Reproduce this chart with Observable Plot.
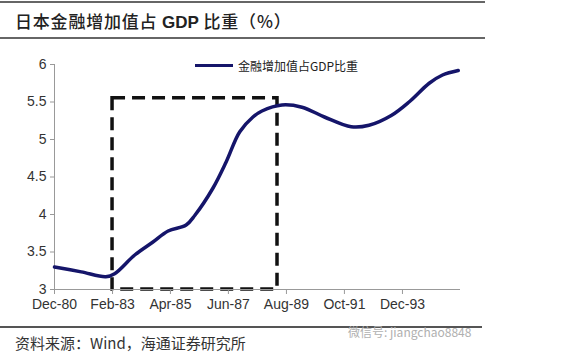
<!DOCTYPE html>
<html><head><meta charset="utf-8">
<script src="https://cdn.jsdelivr.net/npm/d3@7"></script>
<script src="https://cdn.jsdelivr.net/npm/@observablehq/plot@0.6"></script>
<style>
body{margin:0;background:#fff;font-family:Arial,"Liberation Sans",sans-serif;}
#wrap{position:relative;width:576px;height:356px;overflow:hidden;background:#fff;}
#title{position:absolute;left:0;top:1px;width:485px;height:34px;border-top:2px solid #666;border-bottom:2px solid #666;box-sizing:content-box;}
#title span{position:absolute;left:15px;top:5px;font-family:"Noto Sans CJK SC",sans-serif;font-size:17px;font-weight:500;color:#222;white-space:nowrap;letter-spacing:0.8px;}
#chart{position:absolute;left:0;top:44px;}
#legend{position:absolute;left:195px;top:57px;height:16px;display:flex;align-items:center;}
#legend .sw{width:38px;height:3px;background:#15156a;margin-right:5px;}
#legend .tx{font-family:"Noto Sans CJK SC",sans-serif;font-size:12px;color:#222;white-space:nowrap;}
#footrule{position:absolute;left:0;top:326px;width:482px;border-top:2px solid #555;}
#foot{position:absolute;left:15px;top:334px;font-family:"Noto Sans CJK SC",sans-serif;font-size:15px;color:#333;white-space:nowrap;line-height:18px;}
#wm{position:absolute;left:348px;top:324px;font-family:"Noto Sans CJK SC",sans-serif;font-size:12px;color:#b0b0b0;white-space:nowrap;line-height:16px;}
</style>
</head><body>
<div id="wrap">
  <div id="title"><span>日本金融增加值占 <b style="font-family:Arial,'Liberation Sans',sans-serif;font-weight:bold;letter-spacing:0">GDP</b> 比重（%）</span></div>
  <div id="chart"></div>
  <div id="legend"><div class="sw"></div><div class="tx">金融增加值占GDP比重</div></div>
  <div id="footrule"></div>
  <div id="wm">微信号: jiangchao8848</div>
  <div id="foot">资料来源：Wind，海通证券研究所</div>
</div>
<script>
// ---- data ----
const dates = ["1980-12","1981-12","1982-11","1983-03","1983-12","1984-08","1985-03","1985-11","1986-03","1986-11","1987-05","1987-11","1988-05","1988-09","1989-06","1990-03","1991-01","1992-01","1992-09","1993-07","1994-03","1994-12","1995-06","1996-01"];
const values = [3.30,3.235,3.17,3.21,3.46,3.63,3.78,3.86,3.99,4.35,4.70,5.10,5.30,5.38,5.46,5.43,5.30,5.17,5.19,5.32,5.50,5.75,5.86,5.92];
const xTickLabels = ["1980-12","1983-02","1985-04","1987-06","1989-08","1991-10","1993-12"];
const xDomain = ["1980-12","1996-02"];
const yTicks = [3,3.5,4,4.5,5,5.5,6];
const boxStart = ["1983-02"];
const boxEnd = ["1989-04"];
const boxLow = [3];
const boxHigh = [5.55];

const parse = d3.utcParse("%Y-%m");
const data = dates.map((d,i) => ({date: parse(d), value: values[i]}));
const box = boxStart.map((s,i) => ({x1: parse(s), x2: parse(boxEnd[i]), y1: boxLow[i], y2: boxHigh[i]}));
const xd = xDomain.map(parse);

const chart = Plot.plot({
  width: 576, height: 282,
  marginLeft: 54, marginRight: 116, marginTop: 20, marginBottom: 37,
  style: {fontFamily: "Arial, 'Liberation Sans', sans-serif", fontSize: "14px", color: "#333", background: "transparent"},
  x: {type: "utc", domain: xd},
  y: {domain: [3, 6]},
  marks: [
    Plot.rect(box, {x1: "x1", x2: "x2", y1: "y1", y2: "y2", fill: "none", stroke: "#111", strokeWidth: 3.5, strokeDasharray: "13,7"}),
    Plot.ruleY([yTicks[0]], {stroke: "#999", strokeWidth: 1}),
    Plot.ruleX([xd[0]], {stroke: "#999", strokeWidth: 1}),
    Plot.axisX({ticks: xTickLabels.map(parse), tickFormat: d3.utcFormat("%b-%y"), tickSize: 5, tickPadding: 5, fontSize: 14, stroke: "#999", label: null}),
    Plot.axisY({ticks: yTicks, tickFormat: d => String(d), tickSize: 4, tickPadding: 4, fontSize: 14, stroke: "#999", label: null}),
    Plot.line(data, {x: "date", y: "value", stroke: "#15156a", strokeWidth: 3.5, curve: "catmull-rom"})
  ]
});
document.getElementById("chart").appendChild(chart);
</script>
</body></html>
